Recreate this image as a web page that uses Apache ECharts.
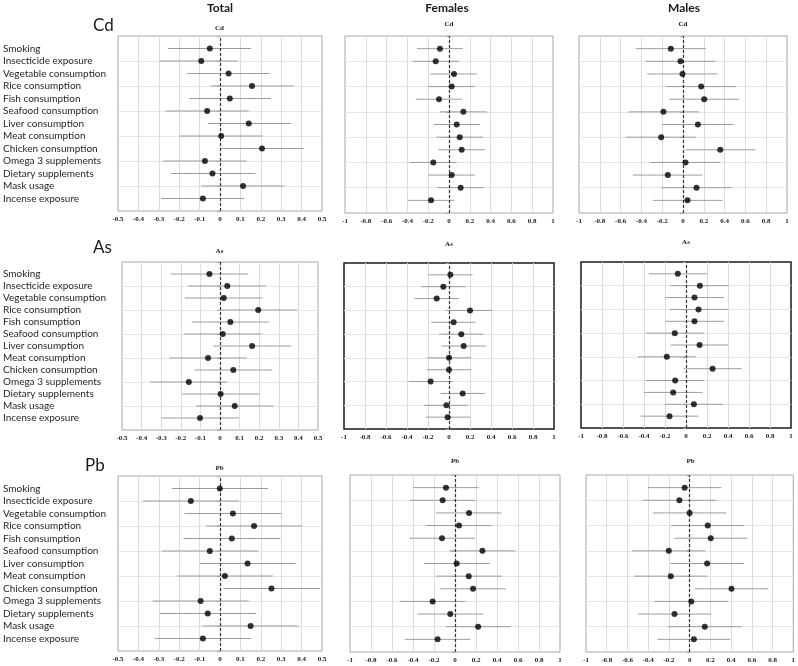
<!DOCTYPE html>
<html><head><meta charset="utf-8">
<script src="https://cdn.jsdelivr.net/npm/echarts@6/dist/echarts.min.js"></script>
<style>html,body{margin:0;padding:0;background:#fff}#c{width:798px;height:666px}</style>
</head><body><div id="c"></div>
<script>
// ---------- DATA ----------
const categories = ['Smoking','Insecticide exposure','Vegetable consumption','Rice consumption','Fish consumption','Seafood consumption','Liver consumption','Meat consumption','Chicken consumption','Omega 3 supplements','Dietary supplements','Mask usage','Incense exposure'];
const columnTitles = ['Total','Females','Males'];
const metals = ['Cd','As','Pb'];
const totalTicks = {min:-0.5, max:0.5, interval:0.1};
const sexTicks = {min:-1, max:1, interval:0.2};

const cdTotalEst = [-0.050,-0.092,0.042,0.157,0.048,-0.063,0.141,0.006,0.206,-0.074,-0.037,0.113,-0.084];
const cdTotalLo  = [-0.255,-0.296,-0.161,-0.046,-0.153,-0.267,-0.060,-0.197,0.002,-0.278,-0.241,-0.091,-0.288];
const cdTotalHi  = [0.153,0.087,0.244,0.361,0.250,0.141,0.348,0.210,0.410,0.130,0.174,0.316,0.120];

const cdFemEst = [-0.087,-0.128,0.048,0.026,-0.096,0.138,0.074,0.103,0.122,-0.151,0.026,0.112,-0.173];
const cdFemLo  = [-0.308,-0.349,-0.179,-0.199,-0.320,-0.087,-0.147,-0.122,-0.103,-0.378,-0.199,-0.112,-0.397];
const cdFemHi  = [0.135,0.096,0.269,0.250,0.128,0.362,0.298,0.327,0.346,0.074,0.250,0.337,0.051];

const cdMaleEst = [-0.117,-0.024,-0.005,0.175,0.204,-0.188,0.143,-0.210,0.358,0.024,-0.146,0.130,0.043];
const cdMaleLo  = [-0.454,-0.361,-0.345,-0.165,-0.133,-0.525,-0.197,-0.550,0.024,-0.316,-0.483,-0.207,-0.290];
const cdMaleHi  = [0.220,0.313,0.332,0.512,0.541,0.152,0.483,0.123,0.695,0.361,0.188,0.467,0.380];

const asTotalEst = [-0.054,0.037,0.019,0.195,0.053,0.014,0.164,-0.061,0.068,-0.159,0.003,0.075,-0.102];
const asTotalLo  = [-0.251,-0.161,-0.180,-0.002,-0.144,-0.185,-0.034,-0.258,-0.129,-0.356,-0.195,-0.122,-0.297];
const asTotalHi  = [0.144,0.234,0.217,0.393,0.251,0.212,0.363,0.137,0.266,0.037,0.200,0.273,0.097];

const asFemEst = [0.013,-0.054,-0.117,0.200,0.044,0.117,0.140,0.000,0.000,-0.175,0.130,-0.025,-0.013];
const asFemLo  = [-0.197,-0.263,-0.327,-0.003,-0.168,-0.095,-0.070,-0.213,-0.213,-0.384,-0.079,-0.238,-0.222];
const asFemHi  = [0.225,0.159,0.098,0.410,0.254,0.327,0.352,0.210,0.210,0.035,0.340,0.184,0.200];

const asMaleEst = [-0.078,0.132,0.081,0.119,0.081,-0.107,0.129,-0.183,0.253,-0.103,-0.122,0.075,-0.157];
const asMaleLo  = [-0.355,-0.145,-0.196,-0.154,-0.196,-0.383,-0.148,-0.459,-0.021,-0.380,-0.399,-0.202,-0.431];
const asMaleHi  = [0.202,0.409,0.361,0.400,0.361,0.170,0.405,0.094,0.530,0.173,0.157,0.351,0.119];

const pbTotalEst = [-0.001,-0.143,0.063,0.167,0.058,-0.050,0.135,0.024,0.252,-0.095,-0.060,0.150,-0.084];
const pbTotalLo  = [-0.237,-0.378,-0.174,-0.068,-0.179,-0.285,-0.100,-0.211,0.017,-0.330,-0.296,-0.086,-0.319];
const pbTotalHi  = [0.236,0.094,0.301,0.402,0.296,0.187,0.370,0.260,0.489,0.141,0.177,0.386,0.153];

const pbFemEst = [-0.086,-0.118,0.134,0.038,-0.124,0.261,0.016,0.131,0.172,-0.213,-0.045,0.220,-0.166];
const pbFemLo  = [-0.401,-0.430,-0.182,-0.274,-0.436,-0.051,-0.296,-0.185,-0.140,-0.525,-0.357,-0.089,-0.478];
const pbFemHi  = [0.226,0.194,0.446,0.350,0.191,0.576,0.331,0.446,0.484,0.099,0.271,0.532,0.146];

const pbMaleEst = [-0.048,-0.099,0.000,0.175,0.204,-0.201,0.169,-0.182,0.404,0.016,-0.146,0.146,0.041];
const pbMaleLo  = [-0.401,-0.452,-0.354,-0.178,-0.150,-0.554,-0.185,-0.535,0.051,-0.338,-0.500,-0.207,-0.312];
const pbMaleHi  = [0.306,0.258,0.354,0.529,0.557,0.153,0.522,0.172,0.761,0.369,0.207,0.500,0.392];

// ---------- LAYOUT ----------
const panels = [
  {metal:0,col:0,est:cdTotalEst,lo:cdTotalLo,hi:cdTotalHi,box:[117,36,205,175],titleY:28,dark:false},
  {metal:0,col:1,est:cdFemEst,lo:cdFemLo,hi:cdFemHi,box:[345,36,208,177],titleY:24,dark:false},
  {metal:0,col:2,est:cdMaleEst,lo:cdMaleLo,hi:cdMaleHi,box:[579,36,208,177],titleY:24,dark:false},
  {metal:1,col:0,est:asTotalEst,lo:asTotalLo,hi:asTotalHi,box:[121,262,197,168],titleY:251,dark:false},
  {metal:1,col:1,est:asFemEst,lo:asFemLo,hi:asFemHi,box:[344,263,210,166],titleY:244,dark:true},
  {metal:1,col:2,est:asMaleEst,lo:asMaleLo,hi:asMaleHi,box:[581,262,210,166],titleY:242,dark:true},
  {metal:2,col:0,est:pbTotalEst,lo:pbTotalLo,hi:pbTotalHi,box:[117,476,205,175],titleY:468,dark:false},
  {metal:2,col:1,est:pbFemEst,lo:pbFemLo,hi:pbFemHi,box:[350,475,210,177],titleY:461,dark:false},
  {metal:2,col:2,est:pbMaleEst,lo:pbMaleLo,hi:pbMaleHi,box:[586,475,209,177],titleY:461,dark:false}
];
const metalLabelPos = [[93,26],[93,248],[85,466]];
const headerX = [220,447,684];

const grid=[], xAxis=[], yAxis=[], series=[], graphic=[];
const n = categories.length;
panels.forEach((p, gi) => {
  const [l,t,w,h] = p.box;
  grid.push({left:l, top:t, width:w, height:h, show:true, borderColor:p.dark?'#1a1a1a':'#a6a6a6', borderWidth:p.dark?1.5:1, containLabel:false});
  const tk = p.col===0 ? totalTicks : sexTicks;
  xAxis.push({type:'value', gridIndex:gi, min:tk.min, max:tk.max, interval:tk.interval,
    axisLine:{show:false}, axisTick:{show:false},
    splitLine:{show:true, showMinLine:false, showMaxLine:false, lineStyle:{color:'#dcdcdc', width:1}},
    axisLabel:{fontFamily:'Liberation Serif', fontWeight:'bold', fontSize:7, color:'#1a1a1a', margin:5,
      formatter: v => String(Math.round(v*10)/10)}});
  const yi = yAxis.length;
  yAxis.push({type:'value', gridIndex:gi, min:0, max:14, interval:2, position:'left',
    axisLine:{show:false}, axisLabel:{show:false},
    axisTick:{show:true, length:3, lineStyle:{color:'#a6a6a6'}},
    splitLine:{show:true, showMinLine:false, showMaxLine:false, lineStyle:{color:'#e6e6e6', width:1}}});
  if (p.col===0) {
    yAxis.push({type:'value', gridIndex:gi, min:0, max:14, interval:1, position:'left',
      axisLine:{show:false}, axisTick:{show:false}, splitLine:{show:false},
      axisLabel:{show:true, align:'left', margin:l-2, fontFamily:'Lato', fontSize:10, color:'#262626',
        formatter: v => (v>=1 && v<=n) ? categories[n - v] : ''}});
  }
  const ciData = categories.map((c,i) => [n - i, p.lo[i], p.hi[i]]);
  const ptData = categories.map((c,i) => [p.est[i], n - i]);
  series.push({type:'custom', xAxisIndex:gi, yAxisIndex:yi, data:ciData, z:2, silent:true,
    encode:{x:[1,2], y:0},
    renderItem:(params, api) => {
      const y = api.value(0), a = api.coord([api.value(1), y]), b = api.coord([api.value(2), y]);
      return {type:'line', shape:{x1:a[0], y1:a[1], x2:b[0], y2:b[1]}, style:{stroke:'#9c9c9c', lineWidth:1}};
    }});
  series.push({type:'scatter', xAxisIndex:gi, yAxisIndex:yi, data:ptData, z:4, symbol:'circle', symbolSize:6,
    itemStyle:{color:'#000'}, silent:true,
    markLine:{silent:true, symbol:['none','none'], label:{show:false}, z:3,
      lineStyle:{color:'#333', type:[3,2], width:1.2}, data:[{xAxis:0}]}});
  graphic.push({type:'text', x:l + w/2, y:p.titleY, style:{text:metals[p.metal], font:'bold 7px "Liberation Serif"', fill:'#1a1a1a', textAlign:'center', textVerticalAlign:'middle'}});
});
metals.forEach((m,i) => graphic.push({type:'text', x:metalLabelPos[i][0], y:metalLabelPos[i][1],
  style:{text:m, font:'17px Lato', fill:'#1a1a1a', textAlign:'left', textVerticalAlign:'middle'}}));
columnTitles.forEach((c,i) => graphic.push({type:'text', x:headerX[i], y:8,
  style:{text:c, font:'bold 12px Lato', fill:'#1a1a1a', textAlign:'center', textVerticalAlign:'middle'}}));

const chart = echarts.init(document.getElementById('c'), null, {renderer:'canvas'});
chart.setOption({animation:false, backgroundColor:'#fff', grid, xAxis, yAxis, series, graphic});
</script></body></html>
